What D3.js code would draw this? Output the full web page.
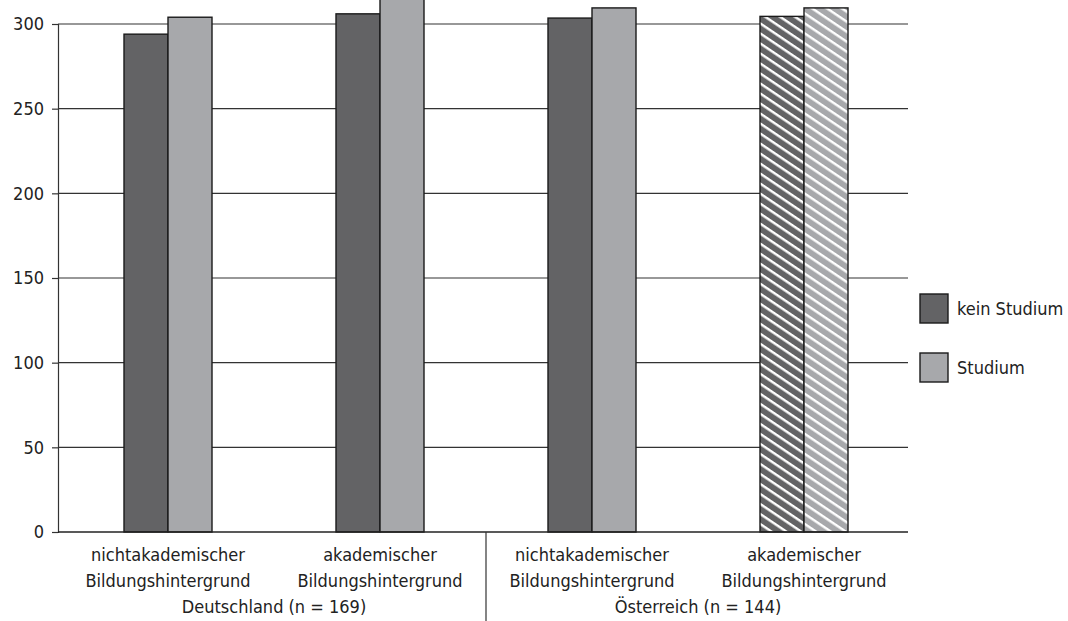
<!DOCTYPE html>
<html lang="de">
<head>
    <meta charset="UTF-8">
    <title>Studium nach Bildungshintergrund</title>
    <script src="https://d3js.org/d3.v7.min.js"></script>
    <style>
        body { margin: 0; background: #fff; }
        text { font-family: "DejaVu Sans Condensed", "DejaVu Sans", sans-serif; font-stretch: condensed; fill: #222; }
    </style>
</head>
<body>
    <div id="chart"></div>
    <script>
        // data
        const categories = ["de-nicht", "de-akad", "at-nicht", "at-akad"];
        const categoryLabels = [
            ["nichtakademischer", "Bildungshintergrund"],
            ["akademischer", "Bildungshintergrund"],
            ["nichtakademischer", "Bildungshintergrund"],
            ["akademischer", "Bildungshintergrund"]
        ];
        const countries = ["Deutschland (n = 169)", "Österreich (n = 144)"];
        const seriesNames = ["kein Studium", "Studium"];
        const keinStudium = [294, 306, 303.5, 304.5];
        const studium = [304, 322, 309.5, 309.5];
        const hatched = [false, false, false, true];
        const yTicks = [0, 50, 100, 150, 200, 250, 300];

        const width = 1068, height = 621;
        const margin = { top: 24, right: 160, bottom: 89, left: 58 };
        const colors = ["#636365", "#a7a8ab"];

        const svg = d3.select("#chart").append("svg")
            .attr("width", width)
            .attr("height", height);

        // hatch patterns for the last group
        const defs = svg.append("defs");
        colors.forEach((c, i) => {
            const p = defs.append("pattern")
                .attr("id", "hatch" + i)
                .attr("patternUnits", "userSpaceOnUse")
                .attr("width", 10)
                .attr("height", 8.3)
                .attr("patternTransform", "rotate(34)");
            p.append("rect").attr("width", 10).attr("height", 8.3).attr("fill", c);
            p.append("rect").attr("y", 0).attr("width", 10).attr("height", 2.4).attr("fill", "#fff");
        });

        const y = d3.scaleLinear()
            .domain([0, 300])
            .range([height - margin.bottom, margin.top]);

        const x0 = d3.scaleBand()
            .domain(categories)
            .range([62, 910]);

        const x1 = d3.scaleBand()
            .domain(seriesNames)
            .range([(x0.bandwidth() - 88) / 2, (x0.bandwidth() + 88) / 2]);

        const x0Left = margin.left, x0Right = 908;

        // gridlines
        svg.append("g").selectAll("line")
            .data(yTicks.filter(d => d > 0))
            .join("line")
            .attr("x1", x0Left).attr("x2", x0Right)
            .attr("y1", d => y(d)).attr("y2", d => y(d))
            .attr("stroke", "#333").attr("stroke-width", 1.2);

        // y axis
        const yAxis = d3.axisLeft(y).tickValues(yTicks).tickSize(6).tickPadding(8);
        const gy = svg.append("g")
            .attr("transform", `translate(${margin.left},0)`)
            .call(yAxis);
        gy.select(".domain").attr("stroke", "#333").attr("stroke-width", 1.2);
        gy.selectAll(".tick line").attr("stroke", "#333").attr("stroke-width", 1.2);
        gy.selectAll(".tick text").style("font-size", "18px").attr("fill", "#222");

        // bars
        const rows = categories.map((c, i) => ({
            cat: c, i: i,
            vals: [keinStudium[i], studium[i]]
        }));

        const groups = svg.append("g").selectAll("g")
            .data(rows)
            .join("g")
            .attr("transform", d => `translate(${x0(d.cat)},0)`);

        groups.selectAll("rect")
            .data(d => d.vals.map((v, k) => ({ key: seriesNames[k], k: k, v: v, hatch: hatched[d.i] })))
            .join("rect")
            .attr("x", d => x1(d.key))
            .attr("width", x1.bandwidth())
            .attr("y", d => y(d.v))
            .attr("height", d => y(0) - y(d.v))
            .attr("fill", d => d.hatch ? `url(#hatch${d.k})` : colors[d.k])
            .attr("stroke", "#1a1a1a")
            .attr("stroke-width", 1.4);

        // x axis baseline
        svg.append("line")
            .attr("x1", x0Left).attr("x2", x0Right)
            .attr("y1", y(0)).attr("y2", y(0))
            .attr("stroke", "#222").attr("stroke-width", 1.4);

        // separator between countries
        const sepX = (x0(categories[1]) + x0.bandwidth() + x0(categories[2])) / 2;
        svg.append("line")
            .attr("x1", sepX).attr("x2", sepX)
            .attr("y1", y(0)).attr("y2", height)
            .attr("stroke", "#333").attr("stroke-width", 1.2);

        // category labels
        const lab = svg.append("g").selectAll("text")
            .data(categories)
            .join("text")
            .attr("text-anchor", "middle")
            .style("font-size", "18px")
            .attr("transform", d => `translate(${x0(d) + x0.bandwidth() / 2},0)`);
        lab.selectAll("tspan")
            .data((d, i) => categoryLabels[i])
            .join("tspan")
            .attr("x", 0)
            .attr("y", (d, j) => 561 + j * 26)
            .text(d => d);

        // country labels
        svg.append("g").selectAll("text")
            .data(countries)
            .join("text")
            .attr("text-anchor", "middle")
            .style("font-size", "18px")
            .attr("x", (d, i) => {
                const a = categories[i * 2], b = categories[i * 2 + 1];
                return (x0(a) + x0(b) + x0.bandwidth()) / 2;
            })
            .attr("y", 613)
            .text(d => d);

        // legend
        const legend = svg.append("g").selectAll("g")
            .data(seriesNames)
            .join("g")
            .attr("transform", (d, i) => `translate(920,${294 + i * 59})`);
        legend.append("rect")
            .attr("width", 28).attr("height", 29)
            .attr("fill", (d, i) => colors[i])
            .attr("stroke", "#1a1a1a").attr("stroke-width", 1.4);
        legend.append("text")
            .attr("x", 37).attr("y", 14.5)
            .attr("dy", "0.35em")
            .style("font-size", "18px")
            .text(d => d);
    </script>
</body>
</html>
